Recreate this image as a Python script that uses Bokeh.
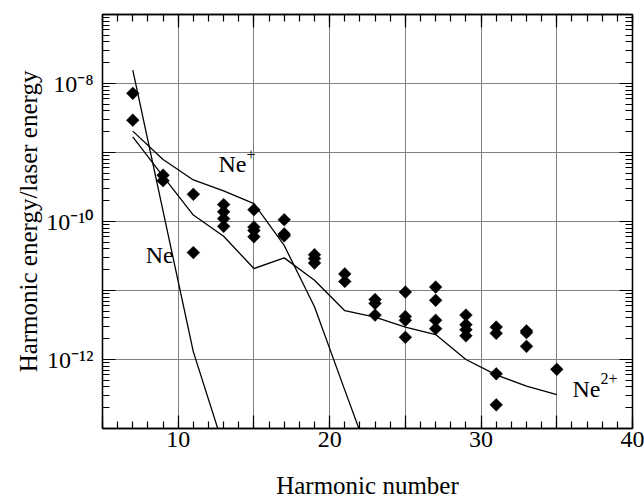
from bokeh.plotting import figure
from bokeh.models import Range1d, FixedTicker, LinearAxis, LogAxis
from bokeh.core.properties import value
from bokeh.embed import file_html
from bokeh.resources import INLINE

# ---------------- data ----------------
point_harmonic = [7, 7, 9, 9, 11, 11, 13, 13, 13, 13, 15, 15, 15, 15, 17, 17, 17,
                  19, 19, 19, 21, 21, 23, 23, 23, 25, 25, 25, 25, 27, 27, 27, 27,
                  29, 29, 29, 29, 31, 31, 31, 31, 33, 33, 33, 35]
point_energy = [7.2e-9, 2.94e-9, 4.7e-10, 3.9e-10, 2.48e-10, 3.55e-11,
                1.76e-10, 1.38e-10, 1.10e-10, 8.5e-11,
                1.48e-10, 8.3e-11, 7.4e-11, 6.0e-11,
                1.06e-10, 6.6e-11, 6.2e-11,
                3.3e-11, 2.9e-11, 2.5e-11,
                1.74e-11, 1.35e-11,
                7.4e-12, 6.5e-12, 4.4e-12,
                9.5e-12, 4.2e-12, 3.7e-12, 2.1e-12,
                1.12e-11, 7.2e-12, 3.7e-12, 2.8e-12,
                4.4e-12, 3.2e-12, 2.7e-12, 2.2e-12,
                2.95e-12, 2.4e-12, 6.2e-13, 2.2e-13,
                2.6e-12, 2.45e-12, 1.55e-12,
                7.2e-13]

ne_harmonic = [7, 9, 11, 13]
ne_energy = [1.56e-8, 1.41e-10, 1.29e-12, 5.4e-14]

ne1_harmonic = [7, 9, 11, 13, 15, 17, 19, 21, 23]
ne1_energy = [2.04e-9, 7.9e-10, 4.0e-10, 2.78e-10, 1.82e-10, 4.5e-11, 5.8e-12, 3.6e-13, 2.3e-14]

ne2_harmonic = [7, 9, 11, 13, 15, 17, 19, 21, 23, 25, 27, 29, 31, 33, 35]
ne2_energy = [1.68e-9, 4.5e-10, 1.24e-10, 6.1e-11, 2.08e-11, 2.97e-11, 1.41e-11, 5.1e-12,
              4.1e-12, 2.95e-12, 2.3e-12, 1.0e-12, 6.0e-13, 4.1e-13, 3.1e-13]

x_ticks = [5, 10, 15, 20, 25, 30, 35, 40]
x_tick_labels = ["", "10", "", "20", "", "30", "", "40"]
x_minor_ticks = list(range(5, 41))

y_ticks = [1e-13, 1e-12, 1e-11, 1e-10, 1e-9, 1e-8, 1e-7]
y_tick_labels = ["", "10⁻¹²", "", "10⁻¹⁰", "", "10⁻⁸", ""]
y_minor_ticks = [k * d for d in [1e-13, 1e-12, 1e-11, 1e-10, 1e-9, 1e-8] for k in range(2, 10)]

species_labels = ["Ne", "Ne", "Ne"]
species_sup = ["", "+", "2+"]
label_x = [7.85, 12.66, 36.04]
label_y = [2.45e-11, 4.97e-10, 2.78e-13]

FONT = "Liberation Serif"

p = figure(width=644, height=501,
           x_range=Range1d(5, 40), y_range=Range1d(1e-13, 1e-7),
           y_axis_type="log",
           output_backend="svg", toolbar_location=None,
           min_border_left=102, min_border_right=12, min_border_top=14, min_border_bottom=73,
           background_fill_color="white", border_fill_color="white",
           outline_line_color="black", outline_line_width=1.3)

xt = FixedTicker(ticks=x_ticks, minor_ticks=x_minor_ticks)
yt = FixedTicker(ticks=y_ticks, minor_ticks=y_minor_ticks)
x_over = {t: l for t, l in zip(x_ticks, x_tick_labels)}
y_over = {t: l for t, l in zip(y_ticks, y_tick_labels)}


def style(ax, show_labels):
    ax.axis_line_color = "black"
    ax.axis_line_width = 1.3
    ax.major_tick_in = 13
    ax.major_tick_out = 0
    ax.minor_tick_in = 7
    ax.minor_tick_out = 0
    ax.major_tick_line_color = "black"
    ax.minor_tick_line_color = "black"
    ax.major_tick_line_width = 1.2
    ax.minor_tick_line_width = 1.2
    if show_labels:
        ax.major_label_text_font = FONT
        ax.major_label_text_font_size = "24px"
        ax.major_label_text_color = "black"
        ax.axis_label_text_font = FONT
        ax.axis_label_text_font_size = "25px"
        ax.axis_label_text_font_style = "normal"
        ax.axis_label_text_color = "black"
    else:
        ax.major_label_text_font_size = "1px"
        ax.major_label_standoff = 0


xa = p.xaxis[0]
xa.ticker = xt
xa.major_label_overrides = x_over
xa.axis_label = "Harmonic number"
style(xa, True)
xa.major_label_standoff = 3
xa.axis_label_standoff = 22

ya = p.yaxis[0]
ya.ticker = yt
ya.major_label_overrides = y_over
ya.axis_label = "Harmonic energy/laser energy"
style(ya, True)
ya.major_label_standoff = 9
ya.axis_label_standoff = 1

top = LinearAxis(ticker=xt, major_label_overrides={t: "" for t in x_ticks})
style(top, False)
p.add_layout(top, "above")
right = LogAxis(ticker=yt, major_label_overrides={t: "" for t in y_ticks})
style(right, False)
p.add_layout(right, "right")

p.xgrid.ticker = xt
p.ygrid.ticker = yt
for g in (p.xgrid[0], p.ygrid[0]):
    g.grid_line_color = "#808080"
    g.grid_line_width = 1
    g.minor_grid_line_color = None

lw = 1.3
p.line(ne_harmonic, ne_energy, line_color="black", line_width=lw)
p.line(ne1_harmonic, ne1_energy, line_color="black", line_width=lw)
p.line(ne2_harmonic, ne2_energy, line_color="black", line_width=lw)

p.scatter(point_harmonic, point_energy, marker="square", angle=0.7853981634, size=9,
          fill_color="black", line_color="black", line_width=0.5)

p.text(x=label_x, y=label_y, text=species_labels, text_font=value(FONT),
       text_font_size="24px", text_color="black", text_align="left",
       text_baseline="alphabetic", y_offset=-9)
p.text(x=label_x, y=label_y, text=species_sup, text_font=value(FONT),
       text_font_size="16px", text_color="black", text_align="left",
       text_baseline="alphabetic", x_offset=28, y_offset=-19)

open("out.html", "w").write(file_html(p, INLINE))
